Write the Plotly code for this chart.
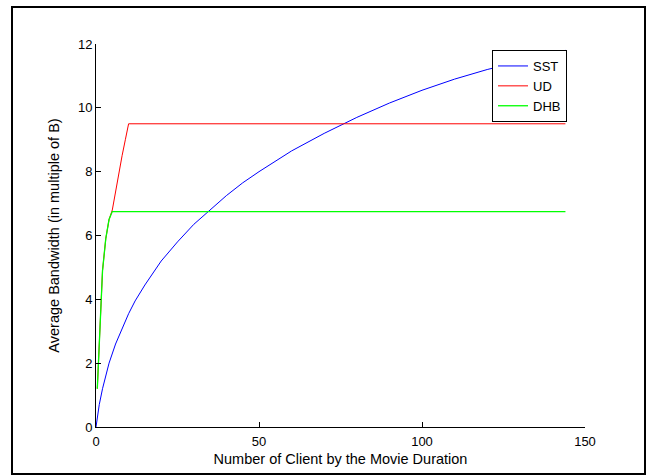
import plotly.graph_objects as go

# SST curve
sst_x = [0, 1, 2, 3, 4, 6, 8, 10, 12, 15, 20, 25, 30, 35, 40, 45, 50, 60, 70, 80, 90, 100, 110, 120, 130, 144]
sst_y = [0, 0.7, 1.2, 1.65, 2.0, 2.6, 3.1, 3.55, 3.95, 4.45, 5.2, 5.8, 6.35, 6.8, 7.25, 7.65, 8.0, 8.65, 9.2, 9.7, 10.15, 10.55, 10.9, 11.2, 11.45, 11.8]

# UD curve
ud_x = [0.4, 1, 1.5, 2, 3, 4, 5, 6, 7, 8, 9, 10, 144]
ud_y = [1.2, 2.7, 4.1, 4.9, 5.9, 6.5, 6.8, 7.4, 8.0, 8.5, 9.0, 9.5, 9.5]

# DHB curve
dhb_x = [0.4, 1, 1.5, 2, 3, 4, 5, 144]
dhb_y = [1.2, 2.7, 4.1, 4.9, 5.9, 6.5, 6.75, 6.75]

x_ticks = [0, 50, 100, 150]
y_ticks = [0, 2, 4, 6, 8, 10, 12]

FONT = "Liberation Sans, Arial, sans-serif"

fig = go.Figure()
fig.add_trace(go.Scatter(x=sst_x, y=sst_y, mode="lines", name="SST",
                         line=dict(color="#0000FF", width=1)))
fig.add_trace(go.Scatter(x=ud_x, y=ud_y, mode="lines", name="UD",
                         line=dict(color="#FF0000", width=1)))
fig.add_trace(go.Scatter(x=dhb_x, y=dhb_y, mode="lines", name="DHB",
                         line=dict(color="#00FF00", width=1.3)))

L, R, T, B = 96, 585, 44, 427
W, H = 651, 475
pw, ph = R - L, B - T

def px2paper_x(px):
    return (px - L) / pw

def px2paper_y(py):
    return (B - py) / ph

fig.update_layout(
    width=W, height=H,
    margin=dict(l=L, r=W - R, t=T, b=H - B, pad=0, autoexpand=False),
    paper_bgcolor="white", plot_bgcolor="white",
    font=dict(family=FONT, size=13, color="#000000"),
    showlegend=True,
    legend=dict(x=px2paper_x(492), y=px2paper_y(50), xanchor="left", yanchor="top",
                bordercolor="#000000", borderwidth=1, bgcolor="white",
                font=dict(family=FONT, size=13), itemwidth=30, tracegroupgap=0),
    xaxis=dict(range=[0, 150], tickvals=x_ticks, ticks="inside", ticklen=5,
               tickcolor="#000000", showline=True, linecolor="#000000", linewidth=1,
               showgrid=False, zeroline=False, mirror=False, automargin=False,
               tickfont=dict(family=FONT, size=13), ticklabelstandoff=2,
               title=dict(text="Number of Client by the Movie Duration",
                          font=dict(family=FONT, size=14.5), standoff=6)),
    yaxis=dict(range=[0, 12], tickvals=y_ticks, ticks="inside", ticklen=5,
               tickcolor="#000000", showline=True, linecolor="#000000", linewidth=1,
               showgrid=False, zeroline=False, mirror=False, automargin=False,
               tickfont=dict(family=FONT, size=13),
               title=dict(text="Average Bandwidth (in multiple of B)",
                          font=dict(family=FONT, size=14.5), standoff=14)),
    shapes=[dict(type="rect", xref="paper", yref="paper",
                 x0=px2paper_x(12), x1=px2paper_x(645),
                 y0=px2paper_y(474), y1=px2paper_y(7),
                 line=dict(color="#000000", width=2), fillcolor="rgba(0,0,0,0)",
                 layer="below")],
)

fig.write_html("out.html", config={"displayModeBar": False},
               post_script="document.body.style.margin='0';document.body.style.overflow='hidden';")
